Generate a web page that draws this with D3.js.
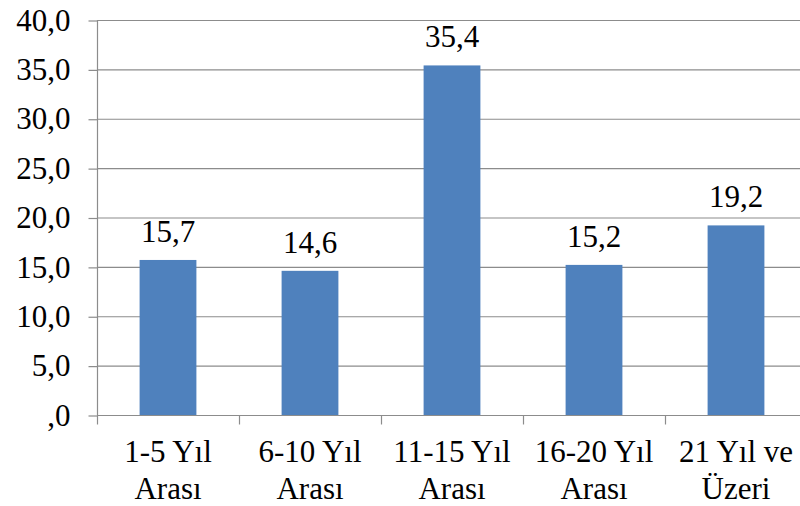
<!DOCTYPE html>
<html>
<head>
<meta charset="utf-8">
<script src="https://cdn.jsdelivr.net/npm/d3@7"></script>
<style>
  body { margin: 0; background: #fff; }
</style>
</head>
<body>
<div id="chart"></div>
<script>
// Chart data
const categories = [["1-5 Yıl", "Arası"], ["6-10 Yıl", "Arası"], ["11-15 Yıl", "Arası"], ["16-20 Yıl", "Arası"], ["21 Yıl ve", "Üzeri"]];
const values = [15.7, 14.6, 35.4, 15.2, 19.2];
const yTicks = [0, 5, 10, 15, 20, 25, 30, 35, 40];

const width = 800, height = 506;
const margin = { top: 20, left: 97, right: -7, bottom: 91 };
const font = "'Liberation Serif'";
const fontSize = '31px';
const gridColor = '#8c8c8c';

// 5 -> "5,0", 0 -> ",0"
const fmt = v => {
    const s = v.toFixed(1).replace('.', ',');
    return s.startsWith('0,') ? s.slice(1) : s;
};

const svg = d3.select('#chart')
    .append('svg')
    .attr('width', width)
    .attr('height', height);

const x = d3.scaleBand()
    .domain(d3.range(categories.length))
    .range([margin.left, width - margin.right])
    .paddingInner(0.6)
    .paddingOuter(0.3);

const y = d3.scaleLinear()
    .domain([0, 40])
    .range([height - margin.bottom, margin.top]);

// Horizontal gridlines
svg.append('g')
    .selectAll('line')
    .data(yTicks.slice(1))
    .enter()
    .append('line')
    .attr('x1', margin.left)
    .attr('x2', width)
    .attr('y1', d => y(d) + 0.5)
    .attr('y2', d => y(d) + 0.5)
    .attr('stroke', gridColor)
    .attr('stroke-width', 1.2);

// Y axis
const yAxis = svg.append('g')
    .attr('transform', `translate(${margin.left + 0.5},0)`)
    .call(d3.axisLeft(y).tickValues(yTicks).tickFormat(fmt).tickSize(9).tickPadding(18));
yAxis.attr('font-family', null).attr('font-size', null);
yAxis.selectAll('line').attr('stroke', gridColor).attr('stroke-width', 1.2).attr('transform', 'translate(0,0.5)');
yAxis.select('.domain').attr('stroke', gridColor).attr('stroke-width', 1.2).attr('d', `M0,${y(40)}V${y(0)}`);
yAxis.selectAll('text')
    .style('font-family', font)
    .style('font-size', fontSize)
    .attr('fill', '#000')
    .attr('dy', '0.33em');

// Bars
svg.append('g')
    .selectAll('rect')
    .data(values)
    .enter()
    .append('rect')
    .attr('x', (d, i) => x(i))
    .attr('y', d => y(d))
    .attr('width', x.bandwidth())
    .attr('height', d => y(0) - y(d))
    .attr('fill', '#4f81bd');

// Value labels
svg.append('g')
    .selectAll('text')
    .data(values)
    .enter()
    .append('text')
    .attr('x', (d, i) => x(i) + x.bandwidth() / 2)
    .attr('y', d => y(d) - 18)
    .attr('text-anchor', 'middle')
    .style('font-family', font)
    .style('font-size', fontSize)
    .text(d => fmt(d));

// X axis baseline and category ticks
const baseY = y(0) + 0.5;
svg.append('line')
    .attr('x1', margin.left)
    .attr('x2', width)
    .attr('y1', baseY)
    .attr('y2', baseY)
    .attr('stroke', gridColor)
    .attr('stroke-width', 1.2);

const bandStep = x.step();
const bandStart = x(0) - bandStep * x.paddingOuter();
svg.append('g')
    .selectAll('line')
    .data(d3.range(categories.length + 1))
    .enter()
    .append('line')
    .attr('x1', i => bandStart + i * bandStep + 0.5)
    .attr('x2', i => bandStart + i * bandStep + 0.5)
    .attr('y1', baseY)
    .attr('y2', baseY + 9)
    .attr('stroke', gridColor)
    .attr('stroke-width', 1.2);

// Category labels (two lines)
const catLabels = svg.append('g')
    .selectAll('text')
    .data(categories)
    .enter()
    .append('text')
    .attr('x', (d, i) => x(i) + x.bandwidth() / 2)
    .attr('y', 462)
    .attr('text-anchor', 'middle')
    .style('font-family', font)
    .style('font-size', fontSize);

catLabels.selectAll('tspan')
    .data(d => d)
    .enter()
    .append('tspan')
    .attr('x', function () { return d3.select(this.parentNode).attr('x'); })
    .attr('dy', (d, i) => i === 0 ? 0 : 37)
    .text(d => d);
</script>
</body>
</html>
